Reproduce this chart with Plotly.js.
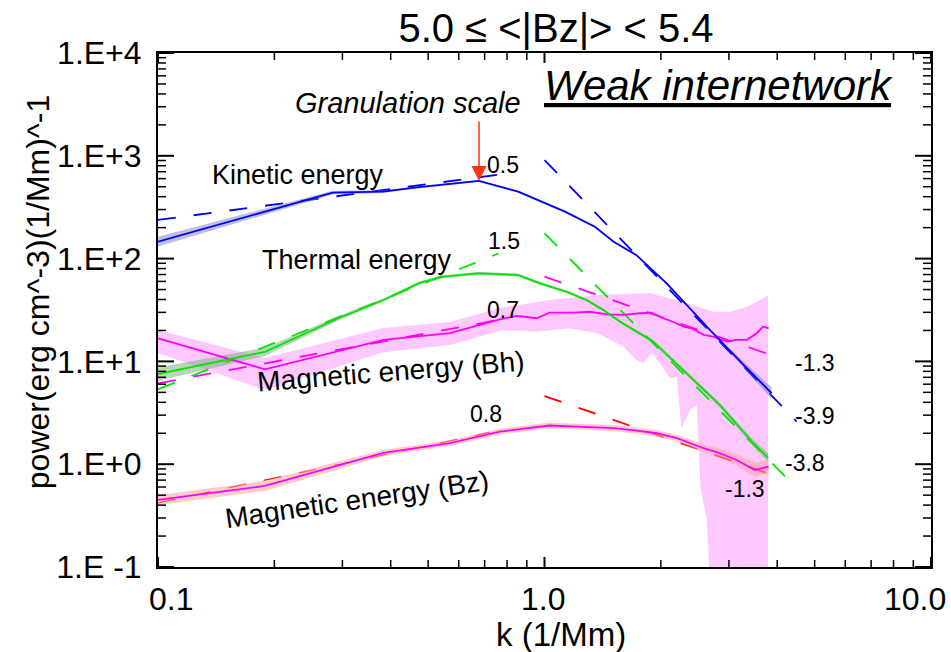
<!DOCTYPE html>
<html>
<head>
<meta charset="utf-8">
<script src="https://cdn.plot.ly/plotly-3.0.1.min.js"></script>
<style>
  html, body { margin: 0; padding: 0; background: #ffffff; }
  #chart { width: 951px; height: 652px; }
</style>
</head>
<body>
<div id="chart"></div>
<script>
// ---- Power spectra, wavenumber k in 1/Mm ----
// Kinetic energy
const kinK  = [0.1, 0.283, 0.382, 0.467, 0.677, 0.855, 1.13, 1.35, 1.51, 1.73, 2.07, 2.68, 3.34, 3.87];
const kinP  = [146, 438, 448, 494, 569, 448, 286, 204, 146, 108, 57.5, 20.2, 8.57, 4.9];
const kinLo = [131, 420, 435, 482, 556, 438, 280, 200, 143, 106, 56.2, 19.6, 8.0, 4.3];
const kinHi = [163, 456, 461, 506, 582, 458, 292, 208, 149, 110, 58.8, 20.8, 9.2, 5.6];

// Thermal energy
const thK  = [0.1, 0.189, 0.293, 0.383, 0.477, 0.547, 0.675, 0.855, 0.973, 1.14, 1.285, 1.42, 1.57, 1.91, 2.26, 2.84, 3.47, 3.79];
const thP  = [7.54, 12.4, 26.3, 39.6, 58.3, 66.7, 71.9, 69.2, 57.5, 47.6, 39.6, 31.6, 24.3, 15.6, 8.57, 3.77, 1.60, 1.15];
const thLo = [6.5, 11.3, 25.0, 38.2, 56.3, 64.4, 69.5, 66.9, 55.6, 46.0, 38.3, 30.5, 23.5, 15.0, 8.2, 3.6, 1.5, 1.05];
const thHi = [8.7, 13.6, 27.6, 41.0, 60.3, 69.0, 74.4, 71.6, 59.5, 49.2, 41.0, 32.7, 25.1, 16.2, 8.95, 3.95, 1.72, 1.28];

// Magnetic energy of the horizontal field
const bhK = [0.1, 0.189, 0.383, 0.569, 0.767, 0.847, 0.955, 1.03, 1.187, 1.31, 1.45, 1.60, 1.77, 1.89, 2.03, 2.15, 2.29, 2.40, 2.58, 2.73, 2.96, 3.14, 3.34, 3.54, 3.68, 3.80];
const bhP = [16.8, 8.38, 16.2, 18.8, 25.7, 27.7, 26.3, 29.8, 29.8, 30.4, 28.7, 28.3, 29.4, 29.8, 26.3, 24.3, 21.8, 21.0, 18.1, 17.4, 15.6, 16.2, 16.2, 18.8, 21.8, 21.0];
const bhUpK = [0.1, 0.189, 0.383, 0.569, 0.767, 1.03, 1.39, 1.875, 2.33, 2.73, 3.02, 3.34, 3.61, 3.79];
const bhUp  = [20.2, 10.8, 21.1, 24.2, 33.1, 39.6, 44.3, 46.3, 37.0, 30.4, 30.4, 34.0, 39.6, 44.3];
const bhLoK = [0.1, 0.189, 0.383, 0.569, 0.781, 0.956, 1.16, 1.37, 1.48, 1.60, 1.73, 1.80, 1.90, 1.99, 2.11, 2.20, 2.26, 2.38, 2.48, 2.53, 2.63, 2.75, 3.79];
const bhLo  = [12.1, 5.27, 12.3, 14.4, 20.2, 19.4, 21.0, 18.8, 16.2, 13.9, 10.3, 9.59, 12.0, 9.59, 6.85, 7.05, 2.25, 3.37, 3.77, 0.60, 0.286, 0.01, 0.01];

// Magnetic energy of the vertical field
const bzK  = [0.1, 0.189, 0.383, 0.569, 0.767, 1.03, 1.21, 1.51, 1.73, 1.95, 2.20, 2.58, 2.84, 3.14, 3.50, 3.68, 3.80];
const bzP  = [0.449, 0.614, 1.29, 1.60, 2.07, 2.38, 2.32, 2.24, 2.12, 2.00, 1.79, 1.43, 1.28, 1.10, 0.879, 0.925, 0.946];
const bzLo = [0.40, 0.55, 1.20, 1.50, 1.94, 2.23, 2.17, 2.09, 1.98, 1.86, 1.66, 1.31, 1.16, 0.97, 0.75, 0.79, 0.80];
const bzHi = [0.50, 0.69, 1.38, 1.71, 2.21, 2.54, 2.48, 2.40, 2.27, 2.15, 1.93, 1.56, 1.41, 1.25, 1.03, 1.09, 1.12];

// Power-law fits: P = P0 * (k/k0)^slope over [k0, k1]
const fitSeries = ['kin', 'kin', 'th', 'th', 'bh', 'bh', 'bz', 'bz'];
const fitSlope  = [0.5, -3.9, 1.5, -3.8, 0.7, -1.3, 0.8, -1.3];
const fitK0     = [0.1, 1.0, 0.1, 1.0, 0.1, 1.0, 0.1, 1.0];
const fitK1     = [0.79, 4.49, 0.76, 4.49, 0.80, 4.07, 0.72, 4.11];
const fitP0     = [237.5, 910, 5.35, 176, 6.12, 66.7, 0.42, 4.6];

// Axis ticks
const xRange = [-1, 1];            // log10 of k
const yRange = [-1, 4];            // log10 of power
const xTickVals  = [0.1, 1, 10];
const xTickText  = ['0.1', '1.0', '10.0'];
const xMinorVals = [0.2, 0.3, 0.4, 0.5, 0.6, 0.7, 0.8, 0.9, 2, 3, 4, 5, 6, 7, 8, 9];
const yTickVals  = [0.1, 1, 10, 100, 1000, 10000];
const yTickText  = ['1.E -1', '1.E+0', '1.E+1', '1.E+2', '1.E+3', '1.E+4'];
const yMinorVals = [0.2, 0.3, 0.4, 0.5, 0.6, 0.7, 0.8, 0.9,
                    2, 3, 4, 5, 6, 7, 8, 9,
                    20, 30, 40, 50, 60, 70, 80, 90,
                    200, 300, 400, 500, 600, 700, 800, 900,
                    2000, 3000, 4000, 5000, 6000, 7000, 8000, 9000];

// ---- Styling ----
const FONT = 'Liberation Sans, Arial, Helvetica, sans-serif';
const COLORS = { kin: '#0000ff', th: '#00e600', bh: '#ff00ff', bz: '#ff00ff' };
const FIT_COLORS = { kin: '#0000ff', th: '#00e600', bh: '#ff00ff', bz: '#ff0000' };
const MARGIN = { l: 158, r: 20, t: 53, b: 85 };
const PLOT_W = 951 - MARGIN.l - MARGIN.r;
const PLOT_H = 652 - MARGIN.t - MARGIN.b;
const log10 = Math.log10;

function band(kUp, up, kLow, low, color) {
  return {
    x: kUp.concat(kLow.slice().reverse()),
    y: up.concat(low.slice().reverse()),
    mode: 'lines', fill: 'toself', fillcolor: color,
    line: { width: 0, color: color }, hoverinfo: 'skip', showlegend: false
  };
}
function curve(k, p, color, width) {
  return { x: k, y: p, mode: 'lines', line: { color: color, width: width || 1.8 },
           hoverinfo: 'skip', showlegend: false };
}

const traces = [];
// spread of the horizontal-field spectrum, underneath everything
traces.push(band(bhUpK, bhUp, bhLoK, bhLo, '#ffc8ff'));

// power-law fits (dashed)
const fitEnds = fitSlope.map((s, i) => fitP0[i] * Math.pow(fitK1[i] / fitK0[i], s));
fitSlope.forEach((s, i) => {
  traces.push({
    x: [fitK0[i], fitK1[i]], y: [fitP0[i], fitEnds[i]], mode: 'lines',
    line: { color: FIT_COLORS[fitSeries[i]], width: i === 6 ? 1.2 : 1.8, dash: '18px,18px' },
    hoverinfo: 'skip', showlegend: false
  });
});

// remaining uncertainty bands
traces.push(band(kinK, kinHi, kinK, kinLo, 'rgba(110,110,190,0.45)'));
traces.push(band(thK, thHi, thK, thLo, 'rgba(120,165,120,0.5)'));
traces.push(band(bzK, bzHi, bzK, bzLo, 'rgba(248,165,150,0.55)'));

// spectra
traces.push(curve(bzK, bzP, COLORS.bz));
traces.push(curve(bhK, bhP, COLORS.bh));
traces.push(curve(thK, thP, COLORS.th));
traces.push(curve(kinK, kinP, COLORS.kin));

// ---- Inward tick marks on all four sides, as short segments in axis space ----
// a tick of `len` pixels spans len/PLOT_H (or len/PLOT_W) of the decades shown
function tickTrace(xVals, yVals, len, width) {
  const xs = [], ys = [];
  const yDec = len / PLOT_H * (yRange[1] - yRange[0]);
  const xDec = len / PLOT_W * (xRange[1] - xRange[0]);
  xVals.forEach(v => {
    xs.push(v, v, null, v, v, null);
    ys.push(Math.pow(10, yRange[0]), Math.pow(10, yRange[0] + yDec), null,
            Math.pow(10, yRange[1]), Math.pow(10, yRange[1] - yDec), null);
  });
  yVals.forEach(v => {
    ys.push(v, v, null, v, v, null);
    xs.push(Math.pow(10, xRange[0]), Math.pow(10, xRange[0] + xDec), null,
            Math.pow(10, xRange[1]), Math.pow(10, xRange[1] - xDec), null);
  });
  return { x: xs, y: ys, mode: 'lines', connectgaps: false, line: { color: '#000', width: width },
           hoverinfo: 'skip', showlegend: false };
}
traces.push(tickTrace(xMinorVals, [], 7, 1.5));
traces.push(tickTrace([], yMinorVals, 8, 1.5));
traces.push(tickTrace(xTickVals, [], 10, 2));
traces.push(tickTrace([], yTickVals, 16, 2));

// ---- Annotations ----
const ann = [];
// slope labels, one per fit
const fitLabelPos = [
  [-0.107, 2.911], [0.700, 0.469], [-0.105, 2.171], [0.674, 0.012],
  [-0.107, 1.500], [0.700, 0.984], [-0.151, 0.488], [0.519, -0.246]
];
fitSlope.forEach((s, i) => {
  ann.push({ x: fitLabelPos[i][0], y: fitLabelPos[i][1], xref: 'x', yref: 'y',
             text: s.toFixed(1), showarrow: false, xanchor: 'center', yanchor: 'middle',
             font: { family: FONT, size: 23, color: '#000' } });
});

// curve names
const names = [
  { text: 'Kinetic energy',        x: -0.6365, y: 2.813, angle: 0,    size: 27 },
  { text: 'Thermal energy',        x: -0.484,  y: 1.989, angle: 0,    size: 27 },
  { text: 'Magnetic energy (Bh)',  x: -0.398,  y: 0.897, angle: -4.5, size: 28 },
  { text: 'Magnetic energy (Bz)',  x: -0.484,  y: -0.348, angle: -8.3, size: 28 }
];
names.forEach(n => ann.push({ x: n.x, y: n.y, xref: 'x', yref: 'y', text: n.text, textangle: n.angle,
  showarrow: false, xanchor: 'center', yanchor: 'middle', font: { family: FONT, size: n.size, color: '#000' } }));

// granulation scale marker at the kinetic-energy peak
const iPeak = kinP.indexOf(Math.max(...kinP));
ann.push({ x: log10(kinK[iPeak]), y: log10(kinP[iPeak]), xref: 'x', yref: 'y', text: '',
  showarrow: true, arrowhead: 2, arrowsize: 2, arrowwidth: 1.5, arrowcolor: '#ff3010',
  ax: 0, ay: -61, standoff: 0 });
ann.push({ x: 0.3238, y: 0.902, xref: 'paper', yref: 'paper', text: '<i>Granulation scale</i>',
  showarrow: false, xanchor: 'center', yanchor: 'middle', font: { family: FONT, size: 29, color: '#000' } });
ann.push({ x: 0.7245, y: 0.9358, xref: 'paper', yref: 'paper', text: '<i>Weak internetwork</i>',
  showarrow: false, xanchor: 'center', yanchor: 'middle',
  font: { family: FONT, size: 42, color: '#000', lineposition: 'under' } });

// x tick labels
const xLabelShift = [13, -1.5, -16];
xTickVals.forEach((v, i) => ann.push({ x: log10(v), y: 0, xref: 'x', yref: 'paper', text: xTickText[i],
  showarrow: false, xanchor: 'center', yanchor: 'middle', xshift: xLabelShift[i], yshift: -32,
  font: { family: FONT, size: 32, color: '#000' } }));

// axis titles
ann.push({ x: 0.5213, y: -0.1304, xref: 'paper', yref: 'paper', text: 'k (1/Mm)', showarrow: false,
  xanchor: 'center', yanchor: 'middle', font: { family: FONT, size: 33, color: '#000' } });
ann.push({ x: -0.155, y: 0.535, xref: 'paper', yref: 'paper', text: 'power(erg cm^-3)(1/Mm)^-1',
  textangle: -90, showarrow: false, xanchor: 'center', yanchor: 'middle',
  font: { family: FONT, size: 32, color: '#000' } });

const axisCommon = {
  type: 'log', showline: true, linecolor: '#000', linewidth: 2, mirror: true,
  ticks: '', showgrid: false, zeroline: false, tickmode: 'array'
};

const layout = {
  width: 951, height: 652,
  margin: MARGIN,
  paper_bgcolor: '#ffffff', plot_bgcolor: '#ffffff',
  font: { family: FONT, color: '#000' },
  showlegend: false,
  title: { text: '5.0 ≤ &lt;|Bz|&gt; &lt; 5.4', font: { family: FONT, size: 40, color: '#000' },
           x: 556 / 951, xref: 'container', xanchor: 'center',
           y: 1 - 28 / 652, yref: 'container', yanchor: 'middle' },
  xaxis: Object.assign({}, axisCommon, {
    range: xRange, tickvals: xTickVals, ticktext: xTickText, showticklabels: false
  }),
  yaxis: Object.assign({}, axisCommon, {
    range: yRange, tickvals: yTickVals, ticktext: yTickText,
    tickfont: { family: FONT, size: 32, color: '#000' }, ticklabelstandoff: 8
  }),
  annotations: ann
};

Plotly.newPlot('chart', traces, layout, { displayModeBar: false, staticPlot: true });
</script>
</body>
</html>
